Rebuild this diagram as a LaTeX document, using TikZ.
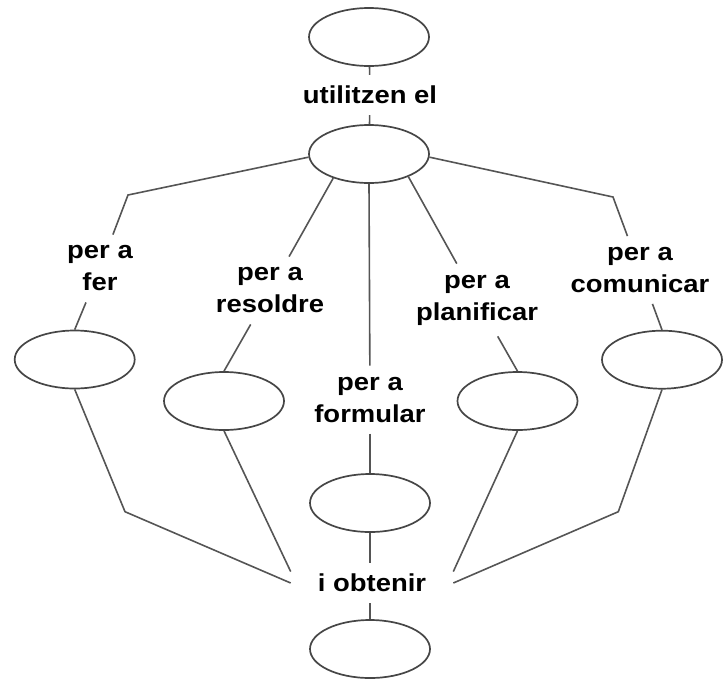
\documentclass[tikz,border=0pt]{standalone}
\usepackage{fontspec}
\setmainfont{Liberation Sans}[FakeStretch=1.12]
\usepackage{tikz}
\usetikzlibrary{shapes.geometric}
\definecolor{MapInk}{HTML}{464646}
\definecolor{MapLink}{HTML}{555555}

\begin{document}
\begin{tikzpicture}[x=1pt, y=-1pt, font=\fontsize{24.5}{32}\selectfont\bfseries,
  concept/.style={ellipse, draw=MapInk, line width=1.7pt, minimum width=120pt, minimum height=58pt, inner sep=0pt},
  phrase/.style={align=center, inner xsep=8pt, inner ysep=11pt},
  link/.style={MapLink, line width=1.6pt}]
  \useasboundingbox (0,0) rectangle (725,681);
  % concepts
  \node[concept] (e1) at (369,37) {};
  \node[concept] (e2) at (369,154) {};
  \node[concept] (efer) at (74.7,359.5) {};
  \node[concept] (eres) at (224,401) {};
  \node[concept] (efor) at (370,503) {};
  \node[concept] (epla) at (517.5,401) {};
  \node[concept] (ecom) at (662,359.7) {};
  \node[concept] (ebot) at (370,649) {};
  % linking phrases
  \node[phrase] (lutil) at (370,95) {utilitzen el};
  \node[phrase] (lfer) at (100,268.5) {per a\\fer};
  \node[phrase] (lres) at (270,290.5) {per a\\resoldre};
  \node[phrase] (lfor) at (370,399.6) {per a\\formular};
  \node[phrase] (lpla) at (477,300) {per a\\planificar};
  \node[phrase] (lcom) at (640,270) {per a\\comunicar};
  \node[phrase, inner xsep=27pt] (lobt) at (372,583) {i obtenir};
  % bends
  \coordinate (kfer) at (128,195);
  \coordinate (kcom) at (613,197);
  \coordinate (kfer2) at (125,511.7);
  \coordinate (kcom2) at (618.3,511.7);
  % top
  \draw[link] (e1) -- (lutil);
  \draw[link] (lutil) -- (e2);
  \draw[link] (e2.183) -- (kfer) -- (lfer);
  \draw[link] (e2.214) -- (lres);
  \draw[link] (e2.south) -- (lfor);
  \draw[link] (e2.-30) -- (lpla);
  \draw[link] (e2.-3) -- (kcom) -- (lcom);
  % phrases to concepts
  \draw[link] (lfer) -- (efer.north);
  \draw[link] (lres) -- (eres.north);
  \draw[link] (lfor) -- (efor);
  \draw[link] (lpla) -- (epla.north);
  \draw[link] (lcom) -- (ecom.north);
  % into i obtenir
  \draw[link] (efer.south) -- (kfer2) -- (lobt.west);
  \draw[link] (eres.south) -- (lobt.172);
  \draw[link] (efor.south) -- (efor.south |- lobt.north);
  \draw[link] (epla.south) -- (lobt.8);
  \draw[link] (ecom.south) -- (kcom2) -- (lobt.east);
  \draw[link] (ebot.north |- lobt.south) -- (ebot.north);
\end{tikzpicture}
\end{document}
